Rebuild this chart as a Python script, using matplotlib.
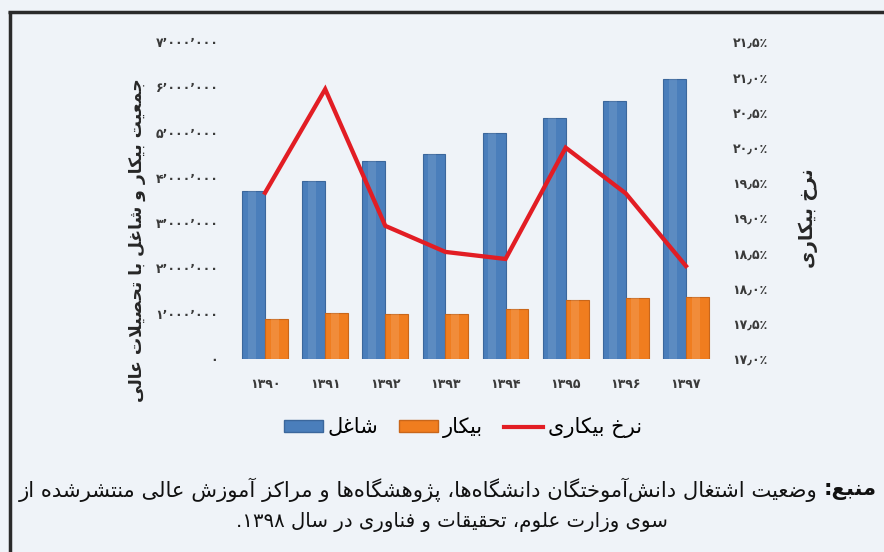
import re
import numpy as np
import matplotlib
matplotlib.use("Agg")
import matplotlib.pyplot as plt
from matplotlib.patches import Rectangle
from matplotlib.lines import Line2D

# ---------------- data ----------------
years = ["۱۳۹۰", "۱۳۹۱", "۱۳۹۲", "۱۳۹۳", "۱۳۹۴", "۱۳۹۵", "۱۳۹۶", "۱۳۹۷"]
employed = [3.70e6, 3.92e6, 4.37e6, 4.52e6, 4.99e6, 5.32e6, 5.70e6, 6.19e6]
unemployed = [0.89e6, 1.02e6, 1.00e6, 1.00e6, 1.11e6, 1.31e6, 1.35e6, 1.37e6]
rate = [19.36, 20.83, 18.89, 18.52, 18.42, 20.00, 19.35, 18.32]

left_ticks = [0, 1e6, 2e6, 3e6, 4e6, 5e6, 6e6, 7e6]
right_ticks = [17.0, 17.5, 18.0, 18.5, 19.0, 19.5, 20.0, 20.5, 21.0, 21.5]

label_left = "جمعیت بیکار و شاغل با تحصیلات عالی"
label_right = "نرخ بیکاری"
legend_labels = ["شاغل", "بیکار", "نرخ بیکاری"]
source_head = "منبع:"
source_line1 = "وضعیت اشتغال دانش\u200cآموختگان دانشگاه\u200cها، پژوهشگاه\u200cها و مراکز آموزش عالی منتشرشده از"
source_line2 = "سوی وزارت علوم، تحقیقات و فناوری در سال ۱۳۹۸."

# ---------------- simple Persian shaping (presentation forms + RTL order) ----------------
FORMS = {
    "ا": (0xFE8D, 0xFE8E), "آ": (0xFE81, 0xFE82),
    "ب": (0xFE8F, 0xFE90, 0xFE91, 0xFE92), "پ": (0xFB56, 0xFB57, 0xFB58, 0xFB59),
    "ت": (0xFE95, 0xFE96, 0xFE97, 0xFE98), "ث": (0xFE99, 0xFE9A, 0xFE9B, 0xFE9C),
    "ج": (0xFE9D, 0xFE9E, 0xFE9F, 0xFEA0), "چ": (0xFB7A, 0xFB7B, 0xFB7C, 0xFB7D),
    "ح": (0xFEA1, 0xFEA2, 0xFEA3, 0xFEA4), "خ": (0xFEA5, 0xFEA6, 0xFEA7, 0xFEA8),
    "د": (0xFEA9, 0xFEAA), "ذ": (0xFEAB, 0xFEAC), "ر": (0xFEAD, 0xFEAE),
    "ز": (0xFEAF, 0xFEB0), "ژ": (0xFB8A, 0xFB8B),
    "س": (0xFEB1, 0xFEB2, 0xFEB3, 0xFEB4), "ش": (0xFEB5, 0xFEB6, 0xFEB7, 0xFEB8),
    "ص": (0xFEB9, 0xFEBA, 0xFEBB, 0xFEBC), "ض": (0xFEBD, 0xFEBE, 0xFEBF, 0xFEC0),
    "ط": (0xFEC1, 0xFEC2, 0xFEC3, 0xFEC4), "ظ": (0xFEC5, 0xFEC6, 0xFEC7, 0xFEC8),
    "ع": (0xFEC9, 0xFECA, 0xFECB, 0xFECC), "غ": (0xFECD, 0xFECE, 0xFECF, 0xFED0),
    "ف": (0xFED1, 0xFED2, 0xFED3, 0xFED4), "ق": (0xFED5, 0xFED6, 0xFED7, 0xFED8),
    "ک": (0xFB8E, 0xFB8F, 0xFB90, 0xFB91), "گ": (0xFB92, 0xFB93, 0xFB94, 0xFB95),
    "ل": (0xFEDD, 0xFEDE, 0xFEDF, 0xFEE0), "م": (0xFEE1, 0xFEE2, 0xFEE3, 0xFEE4),
    "ن": (0xFEE5, 0xFEE6, 0xFEE7, 0xFEE8), "ه": (0xFEE9, 0xFEEA, 0xFEEB, 0xFEEC),
    "و": (0xFEED, 0xFEEE), "ی": (0xFBFC, 0xFBFD, 0xFBFE, 0xFBFF),
    "ئ": (0xFE89, 0xFE8A, 0xFE8B, 0xFE8C),
}
LAMALEF = {"ا": (0xFEFB, 0xFEFC), "آ": (0xFEF5, 0xFEF6)}


def fa(text):
    chars = list(text)
    n = len(chars)
    out = []
    i = 0
    while i < n:
        c = chars[i]
        if c not in FORMS:
            if c != "\u200c":
                out.append(c)
            i += 1
            continue
        prev = chars[i - 1] if i > 0 else None
        joins_prev = prev in FORMS and len(FORMS[prev]) == 4
        if c == "ل" and i + 1 < n and chars[i + 1] in LAMALEF:
            f = LAMALEF[chars[i + 1]]
            out.append(chr(f[1] if joins_prev else f[0]))
            i += 2
            continue
        nxt = chars[i + 1] if i + 1 < n else None
        forms = FORMS[c]
        joins_next = len(forms) == 4 and nxt in FORMS
        if joins_prev and joins_next:
            code = forms[3]
        elif joins_prev:
            code = forms[1]
        elif joins_next:
            code = forms[2]
        else:
            code = forms[0]
        out.append(chr(code))
        i += 1
    vis = "".join(out)[::-1]
    vis = re.sub(r"[0-9۰-۹٫٬]+", lambda m: m.group(0)[::-1], vis)
    return vis


def fa_digits(s):
    return s.translate(str.maketrans("0123456789", "۰۱۲۳۴۵۶۷۸۹"))


plt.rcParams["font.family"] = ["DejaVu Sans"]

W, H = 884, 552
fig = plt.figure(figsize=(W / 100, H / 100), dpi=100)
bg = "#eff3f8"
fig.patch.set_facecolor(bg)

blue, blue_edge = "#4a7ebb", "#3b679c"
orange, orange_edge = "#f07d1f", "#c9661a"
red = "#e21d24"

ax = fig.add_axes([235 / W, 1 - 359 / H, 481 / W, 317 / H])
ax.set_facecolor("none")
x = np.arange(len(years))
bw = 0.38
ax.bar(x - bw / 2, employed, bw, color=blue, edgecolor=blue_edge, linewidth=0.8, zorder=2)
ax.bar(x + bw / 2, unemployed, bw, color=orange, edgecolor=orange_edge, linewidth=0.8, zorder=2)
# soft cylinder highlight
ax.bar(x - bw / 2 - bw * 0.08, employed, bw * 0.35, color="white", alpha=0.10, linewidth=0, zorder=2.5)
ax.bar(x + bw / 2 - bw * 0.08, unemployed, bw * 0.35, color="white", alpha=0.12, linewidth=0, zorder=2.5)
ax.set_xlim(-0.5, len(years) - 0.5)
ax.set_ylim(0, 7e6)
ax.set_yticks(left_ticks)
ax.set_yticklabels([fa_digits(f"{int(v):,}").replace(",", "٬") for v in left_ticks])
ax.set_xticks(x)
ax.set_xticklabels(years)
for s in ax.spines.values():
    s.set_visible(False)
ax.tick_params(axis="both", length=0, labelsize=9, labelcolor="#3a3a3a")
ax.tick_params(axis="y", pad=12)
ax.tick_params(axis="x", pad=14)
for lab in ax.get_xticklabels() + ax.get_yticklabels():
    lab.set_fontweight("bold")

ax2 = ax.twinx()
ax2.plot(x, rate, color=red, lw=3.1, solid_joinstyle="miter", zorder=3)
ax2.set_ylim(17, 21.5)
ax2.set_yticks(right_ticks)
ax2.set_yticklabels([fa_digits(f"{v:.1f}").replace(".", "٫") + "٪" for v in right_ticks])
for s in ax2.spines.values():
    s.set_visible(False)
ax2.tick_params(axis="y", length=0, labelsize=9, labelcolor="#3a3a3a", pad=12)
for lab in ax2.get_yticklabels():
    lab.set_fontweight("bold")

fig.text(137 / W, 1 - 240 / H, fa(label_left), rotation=90, ha="center", va="center",
         fontsize=12.3, fontweight="bold", color="#262626")
fig.text(808 / W, 1 - 218 / H, fa(label_right), rotation=90, ha="center", va="center",
         fontsize=13.5, fontweight="bold", color="#262626")

handles = [
    Rectangle((0, 0), 1, 1, facecolor=blue, edgecolor=blue_edge),
    Rectangle((0, 0), 1, 1, facecolor=orange, edgecolor=orange_edge),
    Line2D([], [], color=red, lw=3),
]
fig.legend(handles, [fa(t) for t in legend_labels], loc="center", bbox_to_anchor=(463 / W, 1 - 428 / H),
           ncol=3, frameon=False, fontsize=15, handlelength=1.85, handleheight=0.55,
           handletextpad=0.25, columnspacing=1.0)

# source text
t_head = fig.text(877 / W, 1 - 490 / H, fa(source_head), ha="right", va="center",
                  fontsize=15.2, fontweight="bold", color="#111111")
fig.canvas.draw()
bb = t_head.get_window_extent()
fig.text((bb.x0 - 6) / W, 1 - 490 / H, fa(source_line1), ha="right", va="center",
         fontsize=15.2, color="#111111")
fig.text(452 / W, 1 - 522 / H, fa(source_line2), ha="center", va="center",
         fontsize=14.2, color="#111111")

# frame
fig.add_artist(Line2D([9.5 / W, 9.5 / W], [0, 1 - 11 / H], color="#2a2a2a", lw=2.5,
                      solid_capstyle="butt", transform=fig.transFigure))
fig.add_artist(Line2D([8 / W, 1], [1 - 11.5 / H, 1 - 11.5 / H], color="#2a2a2a", lw=2.5,
                      solid_capstyle="butt", transform=fig.transFigure))

fig.savefig("out.png", dpi=100, facecolor=bg)
